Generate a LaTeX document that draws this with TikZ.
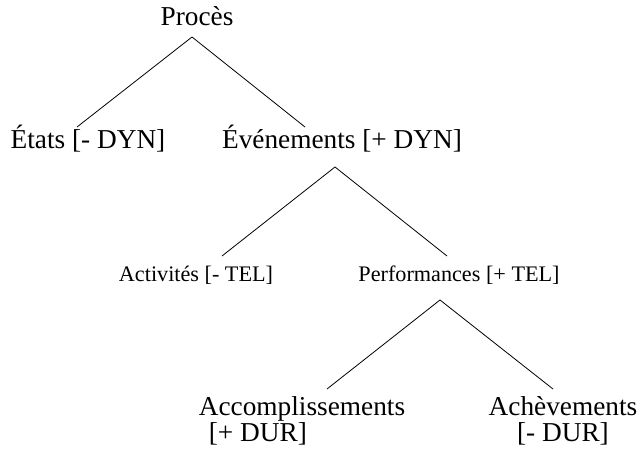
\documentclass[tikz,border=0pt]{standalone}
\usepackage{fontspec}
\setmainfont{Liberation Serif}

\tikzset{
    big/.style={inner sep=0pt, anchor=base, font=\fontsize{27.3}{26}\selectfont},
    small/.style={inner sep=0pt, anchor=base, font=\fontsize{22.2}{24}\selectfont},
}

\begin{document}
\begin{tikzpicture}[x=1pt, y=-1pt, line width=0.8pt]
        \useasboundingbox (0,0) rectangle (638,457);
        \node[big] (proces) at (197,26) {Procès};
        \node[big] (etats) at (88,149) {États [- DYN]};
        \node[big] (evenements) at (342,149) {Événements [+ DYN]};
        \node[small] (activites) at (196,282) {Activités [- TEL]};
        \node[small] (performances) at (459,282) {Performances [+ TEL]};
        \node[big, align=left] (accompl) at (302,442) {Accomplissements\\\hspace*{10pt}[+ DUR]};
        \node[big, align=center] (acheve) at (563,442) {Achèvements\\{[- DUR]}};
%
        \path[draw]
        ([xshift=-5pt, yshift=-11pt]proces.base)
            edge ([xshift=-11pt, yshift=22pt]etats.base)
            edge ([xshift=-37pt, yshift=22pt]evenements.base)
        ([xshift=-7pt, yshift=-18pt]evenements.base)
            edge ([xshift=26pt, yshift=26pt]activites.base)
            edge ([xshift=-12pt, yshift=26pt]performances.base)
        ([xshift=-19pt, yshift=-18pt]performances.base)
            edge ([xshift=25pt, yshift=53pt]accompl.base)
            edge ([xshift=-10pt, yshift=53pt]acheve.base);
\end{tikzpicture}
\end{document}
